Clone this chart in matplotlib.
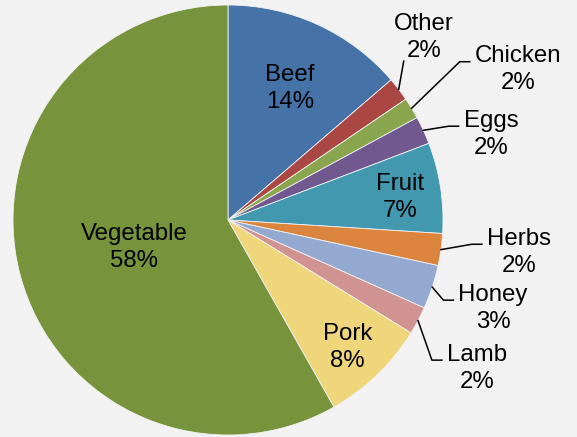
import numpy as np
import matplotlib.pyplot as plt

labels = ['Beef', 'Other', 'Chicken', 'Eggs', 'Fruit', 'Herbs', 'Honey', 'Lamb', 'Pork', 'Vegetable']
shares = [13.7, 1.8, 1.6, 2.1, 6.8, 2.4, 3.3, 2.1, 8.0, 58.2]
colors = ['#4572A7', '#AA4643', '#89A54E', '#71588F', '#4198AF',
          '#DB843D', '#93A9CF', '#D19392', '#EFD67A', '#77933C']

# inside labels: radius factor along wedge middle
inside = {'Beef': 0.69, 'Fruit': 0.81, 'Pork': 0.80, 'Vegetable': 0.45}
# outside labels: text centre in pie units
outside = {'Other': (0.912, 0.863), 'Chicken': (1.349, 0.714), 'Eggs': (1.223, 0.414),
           'Herbs': (1.353, -0.135), 'Honey': (1.233, -0.395), 'Lamb': (1.158, -0.674)}

plt.rcParams['font.family'] = ['Liberation Sans', 'DejaVu Sans']

fig = plt.figure(figsize=(5.77, 4.37), dpi=100, facecolor='#F2F2F2')
ax = fig.add_axes([0, 0, 1, 1])
ax.set_facecolor('#F2F2F2')

wedges, _ = ax.pie(shares, colors=colors, startangle=90, counterclock=False,
                   radius=1, wedgeprops=dict(edgecolor='#F2F2F2', linewidth=0.6))
ax.set_xlim(-228 / 215, (577 - 228) / 215)
ax.set_ylim(-(437 - 220) / 215, 220 / 215)
ax.set_aspect('auto')
ax.axis('off')

dy = -0.015  # small nudge down, text box includes descent
texts = {}
for w, name, v in zip(wedges, labels, shares):
    mid = np.deg2rad((w.theta1 + w.theta2) / 2)
    s = f'{name}\n{v:.0f}%'
    kw = dict(ha='center', va='center', fontsize=17.3, linespacing=1.3)
    if name in inside:
        r = inside[name]
        ax.text(r * np.cos(mid), r * np.sin(mid) + dy, s, **kw)
    else:
        x, y = outside[name]
        texts[name] = (ax.text(x, y + dy, s, **kw), mid)

fig.canvas.draw()
rend = fig.canvas.get_renderer()
inv = ax.transData.inverted()
for name, (t, mid) in texts.items():
    bb = t.get_window_extent(rend)
    ex, ey = ax.transData.transform((np.cos(mid), np.sin(mid)))
    if name == 'Other':
        pts = [(ex, ey), (ex + 5, bb.y0 + 1)]
    else:
        end = (bb.x0 - 5, bb.y0 + bb.height / 2 + 8)
        pts = [(ex, ey), (end[0] - 10, end[1]), end]
    pts = inv.transform(pts)
    ax.plot(pts[:, 0], pts[:, 1], color='black', lw=1.1)

fig.savefig('out.png', dpi=100, facecolor=fig.get_facecolor())
